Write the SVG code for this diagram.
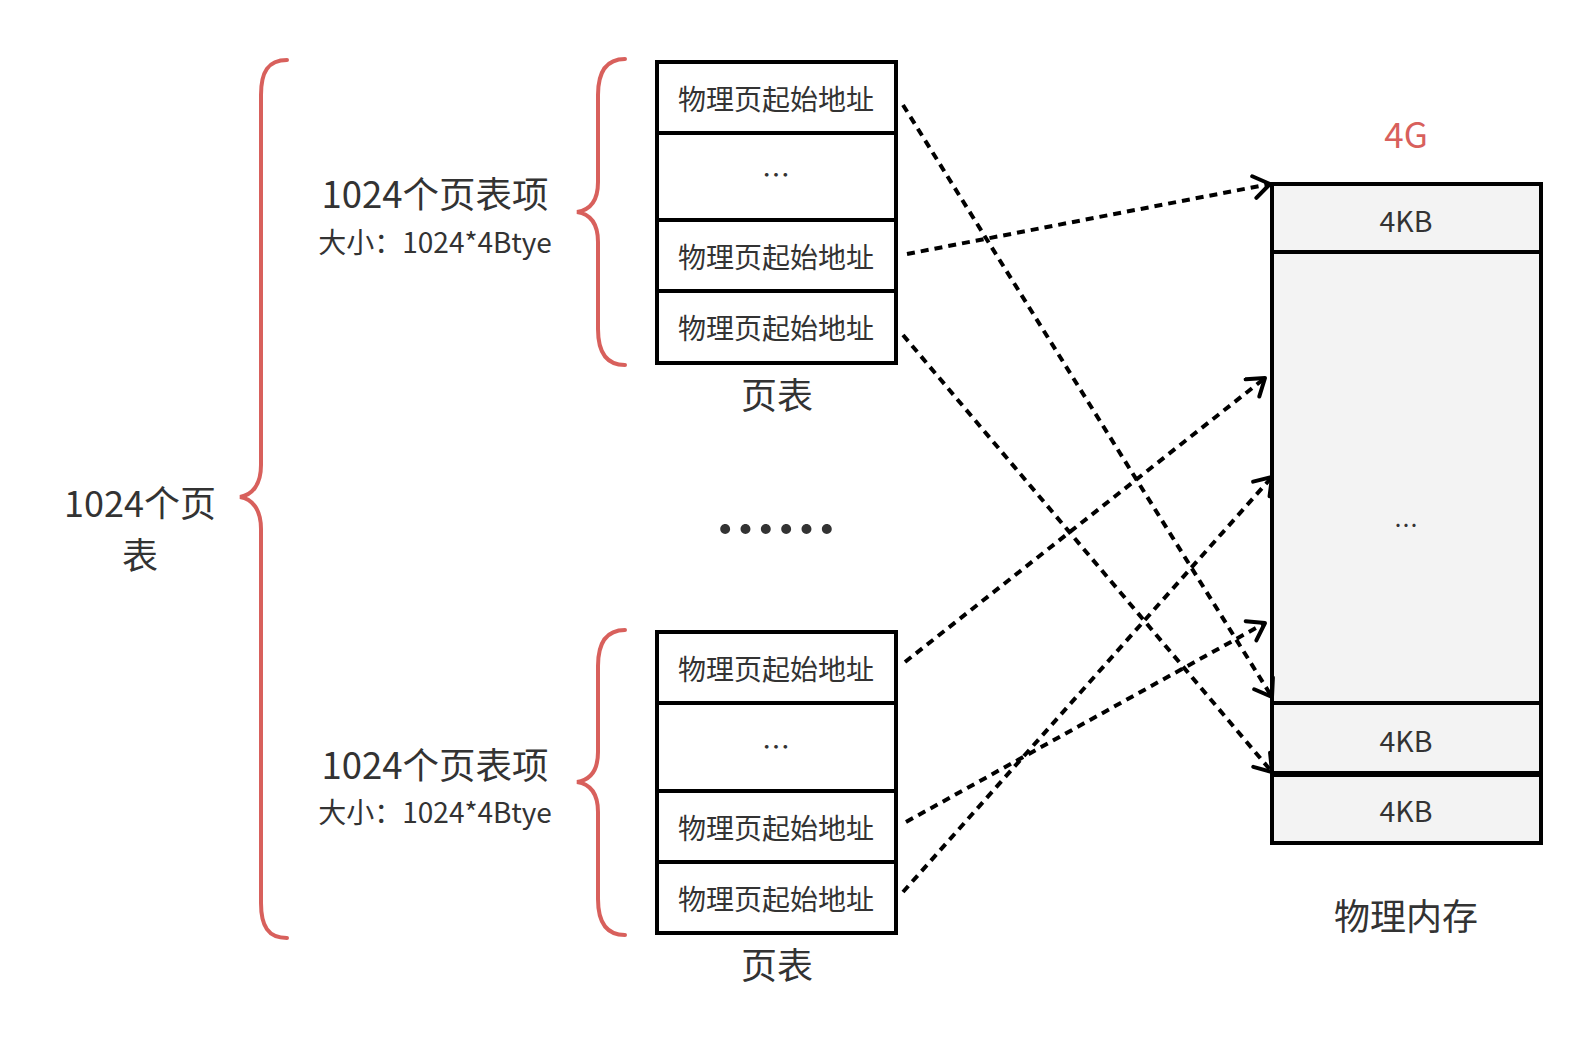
<svg xmlns="http://www.w3.org/2000/svg" width="1585" height="1045" viewBox="0 0 1585 1045">
<style>
text{font-family:"Noto Sans CJK SC","Noto Sans",sans-serif;fill:#333;text-anchor:middle;dominant-baseline:central}
.cell{fill:#fff;stroke:#000;stroke-width:4}
.mem{fill:#f3f3f3;stroke:#000;stroke-width:4}
.brace{fill:none;stroke:#d8605c;stroke-width:4;stroke-linecap:round}
.t27{font-size:28px}
.t35{font-size:36.5px}
.t26{font-size:28px}
.t34{font-size:36px}
.t28{font-size:28.5px}
.conn{fill:none;stroke:#000;stroke-width:4;stroke-dasharray:8 6}
</style>
<defs>
<marker id="arr" markerWidth="28" markerHeight="28" refX="21" refY="13" orient="auto" markerUnits="userSpaceOnUse">
<path d="M5,2 L21,13 L5,24" fill="none" stroke="#000" stroke-width="4" stroke-linecap="round" stroke-linejoin="round"/>
</marker>
</defs>
<rect width="1585" height="1045" fill="#fff"/>

<g id="brace-all">
<path class="brace" d="M287,60 C268,60 261,72 261,95 L261,465 C261,485 252,495 240,497 C252,499 261,509 261,529 L261,903 C261,926 268,938 287,938"/>
<text class="t34" x="140" y="501">1024个页</text>
<text class="t34" x="140" y="553">表</text>
</g>

<g id="brace-top">
<path class="brace" d="M625,59 C606,59 598,72 598,95 L598,182 C598,201 590,210 577,212 C590,214 598,223 598,242 L598,329 C598,352 606,365 625,365"/>
<text class="t35" x="435" y="192">1024个页表项</text>
<text class="t26" x="435" y="241">大小：1024*4Btye</text>
</g>

<g id="brace-bottom">
<path class="brace" d="M625,630 C606,630 598,643 598,666 L598,752 C598,771 590,780 577,782 C590,784 598,793 598,812 L598,899 C598,922 606,935 625,935"/>
<text class="t35" x="435" y="763">1024个页表项</text>
<text class="t26" x="435" y="811">大小：1024*4Btye</text>
</g>

<g id="table-top">
<rect class="cell" x="657" y="62" width="239" height="71"/>
<rect class="cell" x="657" y="133" width="239" height="87"/>
<rect class="cell" x="657" y="220" width="239" height="71"/>
<rect class="cell" x="657" y="291" width="239" height="72"/>
<text class="t27" x="776" y="98">物理页起始地址</text>
<text class="t27" x="776" y="174">…</text>
<text class="t27" x="776" y="256">物理页起始地址</text>
<text class="t27" x="776" y="327">物理页起始地址</text>
<text class="t34" x="777" y="393">页表</text>
</g>

<g id="ellipsis">
<text x="776" y="525" style="font-size:61px;font-weight:bold">……</text>
</g>

<g id="table-bottom">
<rect class="cell" x="657" y="632" width="239" height="71"/>
<rect class="cell" x="657" y="703" width="239" height="88"/>
<rect class="cell" x="657" y="791" width="239" height="71"/>
<rect class="cell" x="657" y="862" width="239" height="71"/>
<text class="t27" x="776" y="668">物理页起始地址</text>
<text class="t27" x="776" y="746">…</text>
<text class="t27" x="776" y="827">物理页起始地址</text>
<text class="t27" x="776" y="898">物理页起始地址</text>
<text class="t34" x="777" y="963">页表</text>
</g>

<g id="memory">
<text x="1406" y="132" style="font-size:35px;fill:#d8605c">4G</text>
<rect class="mem" x="1272" y="184" width="269" height="68"/>
<rect class="mem" x="1272" y="252" width="269" height="451"/>
<rect class="mem" x="1272" y="703" width="269" height="71"/>
<rect class="mem" x="1272" y="775" width="269" height="68"/>
<line x1="1272" y1="774" x2="1541" y2="774" stroke="#000" stroke-width="6"/>
<text class="t28" x="1406" y="219">4KB</text>
<text x="1406" y="523" style="font-size:24px">…</text>
<text class="t28" x="1406" y="739">4KB</text>
<text class="t28" x="1406" y="809">4KB</text>
<text x="1406" y="914" style="font-size:36px">物理内存</text>
</g>

<g id="connectors">
<line class="conn" x1="903" y1="105" x2="1272" y2="697" marker-end="url(#arr)"/>
<line class="conn" x1="907" y1="254" x2="1270" y2="184" marker-end="url(#arr)"/>
<line class="conn" x1="903" y1="335" x2="1272" y2="772" marker-end="url(#arr)"/>
<line class="conn" x1="905" y1="662" x2="1265" y2="378" marker-end="url(#arr)"/>
<line class="conn" x1="906" y1="822" x2="1265" y2="623" marker-end="url(#arr)"/>
<line class="conn" x1="903" y1="892" x2="1272" y2="477" marker-end="url(#arr)"/>
</g>
</svg>
